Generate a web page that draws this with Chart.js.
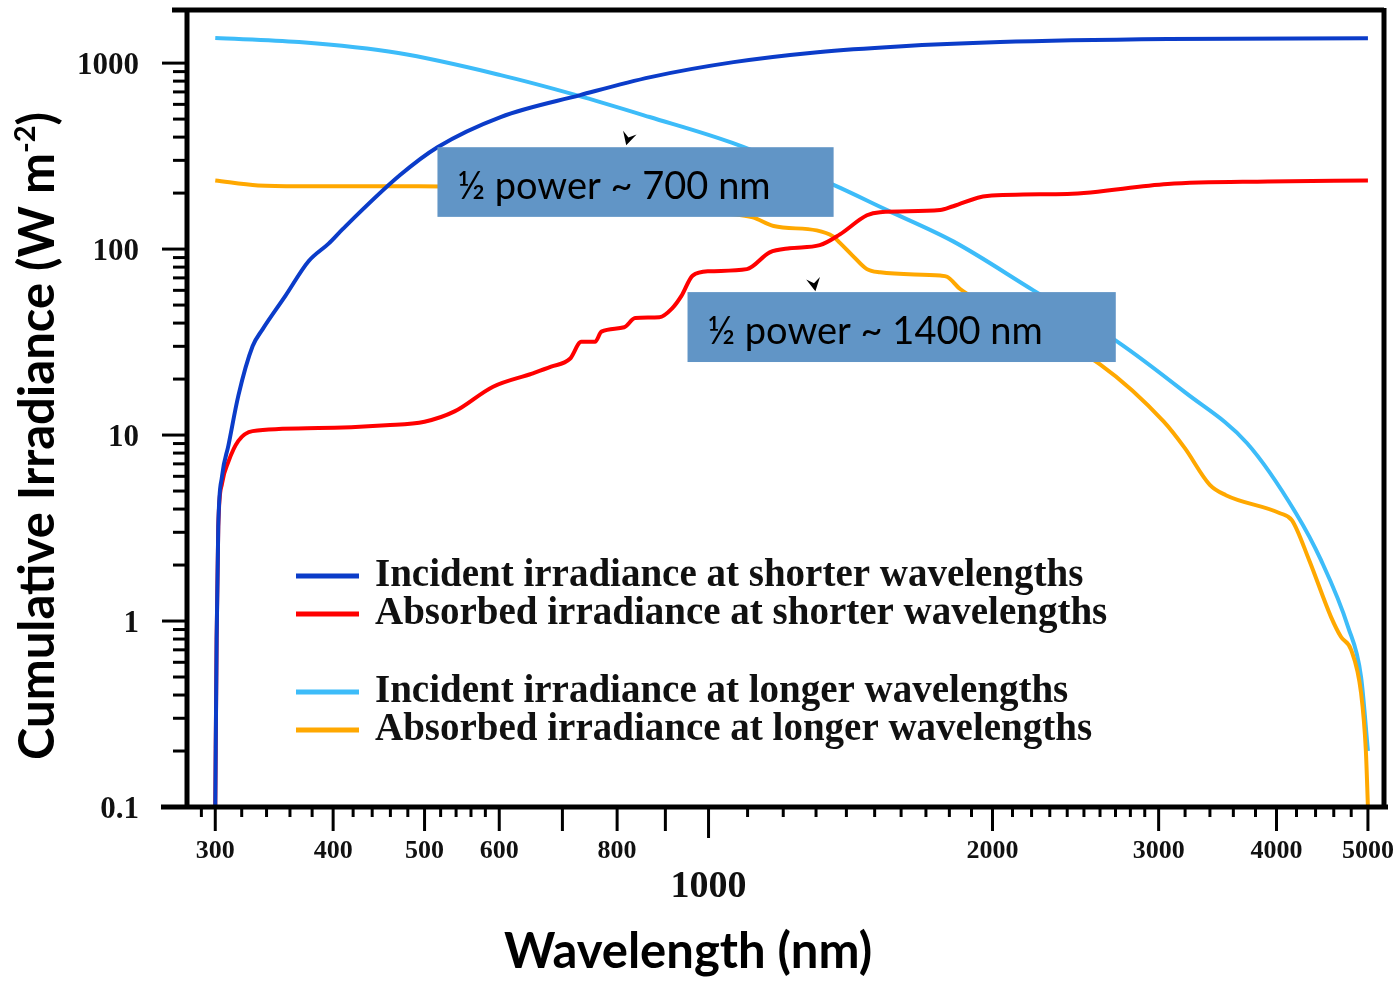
<!DOCTYPE html>
<html>
<head>
<meta charset="utf-8">
<title>Cumulative irradiance vs wavelength</title>
<script src="https://cdn.jsdelivr.net/npm/chart.js@4.4.1/dist/chart.umd.min.js"></script>
<style>
  html, body { margin: 0; padding: 0; background: #fff; }
  #wrap { width: 1397px; height: 981px; }
</style>
</head>
<body>
<div id="wrap"><canvas id="irradianceChart"></canvas></div>
<script>
// values: wavelength (nm) and cumulative irradiance (W m-2)
const incidentShortNm  = [300, 301, 302.2, 305, 309.8, 317.4, 328.6, 336.7, 356, 376.7, 395.6, 409.4, 471, 516, 602, 731, 868, 1063, 1305, 1590, 2038, 3067, 5000];
const incidentShortVal = [0.1, 0.8, 3.2, 6, 8.8, 16.3, 30, 37, 56, 86, 107, 128, 250, 353, 513, 673, 841, 1012, 1145, 1230, 1297, 1346, 1362];

const absorbedShortNm  = [300, 301, 302.2, 305, 309.8, 317.4, 328.6, 386, 455, 500, 538, 591, 650, 681, 713, 733, 758, 770, 814, 836, 887, 915, 936, 962, 1002, 1098, 1161, 1219, 1312, 1378, 1472, 1520, 1760, 1817, 1974, 2401, 3067, 3917, 5000];
const absorbedShortVal = [0.1, 0.8, 3.2, 5.5, 7.2, 9.3, 10.5, 10.9, 11.3, 11.8, 13.4, 18.2, 21.4, 23.3, 25.7, 31.7, 31.7, 36, 38, 42.6, 43, 48, 56, 72, 76, 78, 96, 101, 105, 120, 152, 158, 162, 170, 193, 198, 224, 231, 234];

const incidentLongNm  = [300, 368, 469, 602, 724, 866, 1060, 1355, 1546, 1817, 2210, 2707, 3198, 3721, 4193, 4458, 4763, 4917, 5000];
const incidentLongVal = [1363, 1297, 1132, 862, 673, 513, 372, 222, 162, 110, 60, 32, 17, 9.06, 3.81, 2.13, 0.93, 0.5, 0.2];

const absorbedLongNm  = [300, 333, 368, 493, 600, 700, 800, 900, 980, 1050, 1114, 1172, 1302, 1355, 1378, 1422, 1472, 1520, 1760, 1790, 1848, 2200, 2600, 3038, 3198, 3399, 3535, 4034, 4154, 4331, 4570, 4683, 4799, 4917, 4975, 5000];
const absorbedLongVal = [234, 220, 218, 218, 214, 208, 200, 188, 160, 155, 148, 133, 126, 117, 108, 92, 78, 75, 72, 71, 61, 38, 24, 11.8, 8.5, 5.4, 4.75, 3.8, 3.48, 2.13, 1.05, 0.82, 0.7, 0.41, 0.2, 0.1];

const seriesLabels = [
  'Incident irradiance at shorter wavelengths',
  'Absorbed irradiance at shorter wavelengths',
  'Incident irradiance at longer wavelengths',
  'Absorbed irradiance at longer wavelengths'
];

// axis ticks
const xTicks = [290, 300, 320, 340, 360, 380, 400, 420, 440, 460, 480, 500, 520, 540, 560, 580, 600, 700, 800, 900,
  1000, 1100, 1200, 1300, 1400, 1500, 1600, 1700, 1800, 1900, 2000, 2100, 2200, 2300, 2400, 2500, 2600, 2700, 2800, 2900,
  3000, 3200, 3400, 3600, 3800, 4000, 4200, 4400, 4600, 4800, 5000];
const xTickLabels = [300, 400, 500, 600, 800, 1000, 2000, 3000, 4000, 5000];
const xLongTicks = [300, 400, 500, 600, 700, 800, 900, 2000, 3000, 4000, 5000];
const yTicks = [0.1, 0.2, 0.3, 0.4, 0.5, 0.6, 0.7, 0.8, 0.9, 1, 2, 3, 4, 5, 6, 7, 8, 9, 10, 20, 30, 40, 50, 60, 70, 80, 90,
  100, 200, 300, 400, 500, 600, 700, 800, 900, 1000];
const yTickLabels = [0.1, 1, 10, 100, 1000];

// "half power" notes, placed in data units
const notes = [
  { text: '½ power ~ 700 nm',  nm: [516, 1357], val: [149, 353],   arrow: [818, 362],  tilt: 0.28 },
  { text: '½ power ~ 1400 nm', nm: [950, 2702], val: [24.7, 58.7], arrow: [1298, 59.4], tilt: -0.18 }
];

const SERIF = "'Liberation Serif', 'Times New Roman', serif";
const SANS = "Lato, 'Open Sans', sans-serif";

const toPoints = (xs, ys) => xs.map((x, i) => ({ x: x, y: ys[i] }));

const frameAndTicks = {
  id: 'frameAndTicks',
  afterDraw(chart) {
    const { ctx, chartArea: a, scales: { x, y } } = chart;
    ctx.save();
    ctx.strokeStyle = '#000';
    ctx.lineWidth = 3;
    x.ticks.forEach(t => {
      const px = x.getPixelForValue(t.value);
      const len = t.value === 1000 ? 31 : (xLongTicks.includes(t.value) ? 24 : 10);
      ctx.beginPath();
      ctx.moveTo(px, a.bottom);
      ctx.lineTo(px, a.bottom + len);
      ctx.stroke();
    });
    y.ticks.forEach(t => {
      const py = y.getPixelForValue(t.value);
      const len = yTickLabels.includes(t.value) ? 25 : 14;
      ctx.beginPath();
      ctx.moveTo(a.left, py);
      ctx.lineTo(a.left - len, py);
      ctx.stroke();
    });
    // box round the plot
    ctx.lineWidth = 5;
    ctx.beginPath();
    ctx.moveTo(a.left - 15, a.top); ctx.lineTo(a.right, a.top);
    ctx.moveTo(a.left - 26, a.bottom); ctx.lineTo(a.right + 4, a.bottom);
    ctx.moveTo(a.left, a.top); ctx.lineTo(a.left, a.bottom);
    ctx.moveTo(a.right, a.top - 2); ctx.lineTo(a.right, a.bottom + 2);
    ctx.stroke();

    // axis titles
    ctx.fillStyle = '#000';
    ctx.font = 'bold 49px ' + SANS;
    ctx.textAlign = 'center';
    ctx.textBaseline = 'alphabetic';
    ctx.fillText('Wavelength (nm)', a.left + 501, a.bottom + 161);

    ctx.translate(54, a.top + 426);
    ctx.rotate(-Math.PI / 2);
    const main = 'Cumulative Irradiance (W m';
    const wMain = ctx.measureText(main).width;
    const wClose = ctx.measureText(')').width;
    ctx.font = 'bold 29px ' + SANS;
    const wSup = ctx.measureText('-2').width;
    let tx = -(wMain + wSup + wClose) / 2;
    ctx.textAlign = 'left';
    ctx.font = 'bold 49px ' + SANS;
    ctx.fillText(main, tx, 0);
    tx += wMain;
    ctx.font = 'bold 29px ' + SANS;
    ctx.fillText('-2', tx, -19);
    tx += wSup;
    ctx.font = 'bold 49px ' + SANS;
    ctx.fillText(')', tx, 0);
    ctx.restore();
  }
};

const legendAndNotes = {
  id: 'legendAndNotes',
  afterDatasetsDraw(chart) {
    const { ctx, chartArea: a, scales: { x, y } } = chart;
    ctx.save();
    // legend in the lower part of the plot, two groups of two
    ctx.font = 'bold 39px ' + SERIF;
    ctx.textAlign = 'left';
    ctx.textBaseline = 'middle';
    chart.data.datasets.forEach((ds, i) => {
      const yy = a.top + 566 + i * 38 + (i >= 2 ? 40 : 0);
      const x0 = a.left + 109;
      ctx.strokeStyle = ds.borderColor;
      ctx.lineWidth = 5;
      ctx.beginPath();
      ctx.moveTo(x0, yy);
      ctx.lineTo(x0 + 63, yy);
      ctx.stroke();
      ctx.fillStyle = '#111';
      ctx.fillText(ds.label, x0 + 79, yy);
    });

    // half-power notes
    notes.forEach(n => {
      const left = x.getPixelForValue(n.nm[0]);
      const right = x.getPixelForValue(n.nm[1]);
      const top = y.getPixelForValue(n.val[1]);
      const bottom = y.getPixelForValue(n.val[0]);
      ctx.fillStyle = '#6195c6';
      ctx.fillRect(left, top, right - left, bottom - top);
      ctx.fillStyle = '#000';
      ctx.font = '38px ' + SANS;
      ctx.textBaseline = 'alphabetic';
      ctx.fillText(n.text, left + 20, top + 52);

      const ax = x.getPixelForValue(n.arrow[0]);
      const ay = y.getPixelForValue(n.arrow[1]);
      ctx.save();
      ctx.translate(ax, ay);
      ctx.rotate(n.tilt);
      ctx.beginPath();
      ctx.moveTo(0, 0);
      ctx.lineTo(-7, -13);
      ctx.lineTo(0, -8);
      ctx.lineTo(7, -13);
      ctx.closePath();
      ctx.fill();
      ctx.restore();
    });
    ctx.restore();
  }
};

new Chart(document.getElementById('irradianceChart').getContext('2d'), {
  type: 'line',
  data: {
    datasets: [
      { label: seriesLabels[0], data: toPoints(incidentShortNm, incidentShortVal), borderColor: '#0b3cc9', order: 0 },
      { label: seriesLabels[1], data: toPoints(absorbedShortNm, absorbedShortVal), borderColor: '#ff0000', order: 1 },
      { label: seriesLabels[2], data: toPoints(incidentLongNm, incidentLongVal), borderColor: '#3dbcf9', order: 3 },
      { label: seriesLabels[3], data: toPoints(absorbedLongNm, absorbedLongVal), borderColor: '#ffa800', order: 2 }
    ]
  },
  options: {
    responsive: true,
    maintainAspectRatio: false,
    animation: false,
    layout: { padding: { top: 10, right: 13, left: 0, bottom: 0 } },
    elements: {
      point: { radius: 0 },
      line: { borderWidth: 4, cubicInterpolationMode: 'monotone', fill: false }
    },
    plugins: {
      legend: { display: false },
      tooltip: { enabled: false }
    },
    scales: {
      x: {
        type: 'logarithmic',
        min: 280,
        max: 5200,
        afterBuildTicks: s => { s.ticks = xTicks.map(v => ({ value: v })); },
        afterFit: s => {
          s.height = 174;
          s.paddingLeft = 0;
          s.paddingRight = 0;
        },
        grid: { display: false, drawTicks: false },
        border: { display: false },
        ticks: {
          autoSkip: false,
          maxRotation: 0,
          minRotation: 0,
          padding: 29,
          color: '#111',
          font: c => (c.tick && c.tick.value === 1000)
            ? { family: SERIF, size: 38, weight: 'bold', lineHeight: 0.9 }
            : { family: SERIF, size: 26, weight: 'bold' },
          callback: v => {
            if (v === 1000) return ['', '1000'];
            return xTickLabels.includes(v) ? String(v) : '';
          }
        }
      },
      y: {
        type: 'logarithmic',
        min: 0.1,
        max: 1930,
        afterBuildTicks: s => { s.ticks = yTicks.map(v => ({ value: v })); },
        afterFit: s => {
          s.width = 187;
          s.paddingTop = 0;
          s.paddingBottom = 0;
        },
        grid: { display: false, drawTicks: false },
        border: { display: false },
        ticks: {
          autoSkip: false,
          padding: 48,
          labelOffset: 3,
          color: '#111',
          font: { family: SERIF, size: 31, weight: 'bold' },
          callback: v => yTickLabels.includes(v) ? String(v) : ''
        }
      }
    }
  },
  plugins: [frameAndTicks, legendAndNotes]
});
</script>
</body>
</html>
